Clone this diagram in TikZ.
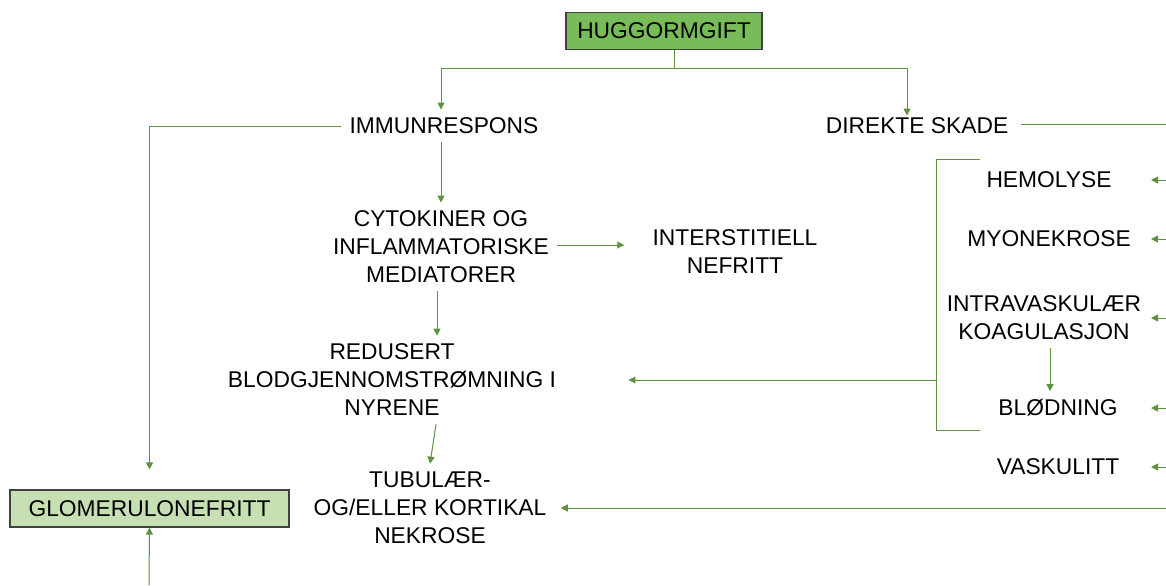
\documentclass[tikz,border=0pt]{standalone}
\usepackage{fontspec}
\setmainfont{Liberation Sans}
\usepackage{tikz}
\usetikzlibrary{arrows.meta}

\definecolor{linegreen}{HTML}{5E9140}
\definecolor{topgreen}{HTML}{77BC58}
\definecolor{lightgreen}{HTML}{C6E0B4}
\definecolor{boxgray}{HTML}{404040}

\begin{document}
\begin{tikzpicture}[x=0.5pt, y=-0.5pt,
    every node/.style={align=center, inner sep=4pt, font=\fontsize{11.4}{14}\selectfont},
    box/.style={draw=boxgray, line width=0.6pt, minimum height=18.5pt},
    ln/.style={draw=linegreen, line width=0.5pt},
    arr/.style={ln, -{Triangle[length=3.5pt, width=3.5pt]}}]

\useasboundingbox (0,0) rectangle (1166,585);

% Top
\node[box, fill=topgreen, minimum width=98pt] (gift) at (664,31) {HUGGORMGIFT};
\node (immun) at (444,126) {IMMUNRESPONS};
\node (direkte) at (917,126) {DIREKTE SKADE};

% Left column
\node (cyto) at (441,247) {CYTOKINER OG\\INFLAMMATORISKE\\MEDIATORER};
\node (inter) at (735,252) {INTERSTITIELL\\NEFRITT};
\node (redus) at (392,380) {REDUSERT\\BLODGJENNOMSTRØMNING I\\NYRENE};
\node (tubu) at (430,508) {TUBULÆR-\\OG/ELLER KORTIKAL\\NEKROSE};
\node[box, fill=lightgreen, minimum width=139.5pt] (glom) at (149.5,508.5) {GLOMERULONEFRITT};

% Right column
\node (hemo) at (1049,180) {HEMOLYSE};
\node (myo) at (1049,239) {MYONEKROSE};
\node (koag) at (1044,318) {INTRAVASKULÆR\\KOAGULASJON};
\node (blod) at (1058,408) {BLØDNING};
\node (vask) at (1058,467) {VASKULITT};

\coordinate (rside) at (1166,0);
\coordinate (glomin) at (149,585);
\coordinate (tubuin) at (1166,508);
\coordinate (brtop) at (980,159);
\coordinate (brbot) at (980,430);
\coordinate (brmid) at (936,380);

% Connectors
\draw[arr] ([xshift=5pt]gift.south) -- ++(0,18) -| ([xshift=-1.5pt]immun.north);
\draw[arr] ([xshift=5pt]gift.south) -- ++(0,18) -| ([xshift=-5pt, yshift=-3pt]direkte.north);
\draw[arr, shorten >=10pt] (immun.west) -| (glom.north);
\draw[arr] (glomin) -- (glom.south);
\draw[arr] ([xshift=-1.5pt]immun.south) -- ([xshift=-1.5pt]immun.south |- cyto.north);
\draw[arr, shorten >=10pt] ([yshift=1pt]cyto.east) -- ([yshift=1pt]cyto.east -| inter.west);
\draw[arr] ([xshift=-2pt]cyto.south) -- ([xshift=-2pt]cyto.south |- redus.north);
\draw[arr] ([xshift=22pt]redus.south) -- (tubu.north);
\draw[ln] ([xshift=2pt, yshift=1pt]direkte.east) -- ([yshift=1pt]direkte.east -| rside);

% Bracket for direct damage
\draw[ln] (brtop) -- (brtop -| brmid) -- (brbot -| brmid) -- (brbot);
\draw[arr, shorten >=32pt] (brmid) -- (redus.east);
\draw[arr] ([xshift=3pt]koag.south) -- ([xshift=3pt]koag.south |- blod.north);
\draw[arr, shorten >=3pt] (tubuin) -- (tubu.east);

\foreach \n in {hemo,myo,koag,blod,vask}
  \draw[arr] (\n -| rside) -- ++(-15,0);

\end{tikzpicture}
\end{document}
